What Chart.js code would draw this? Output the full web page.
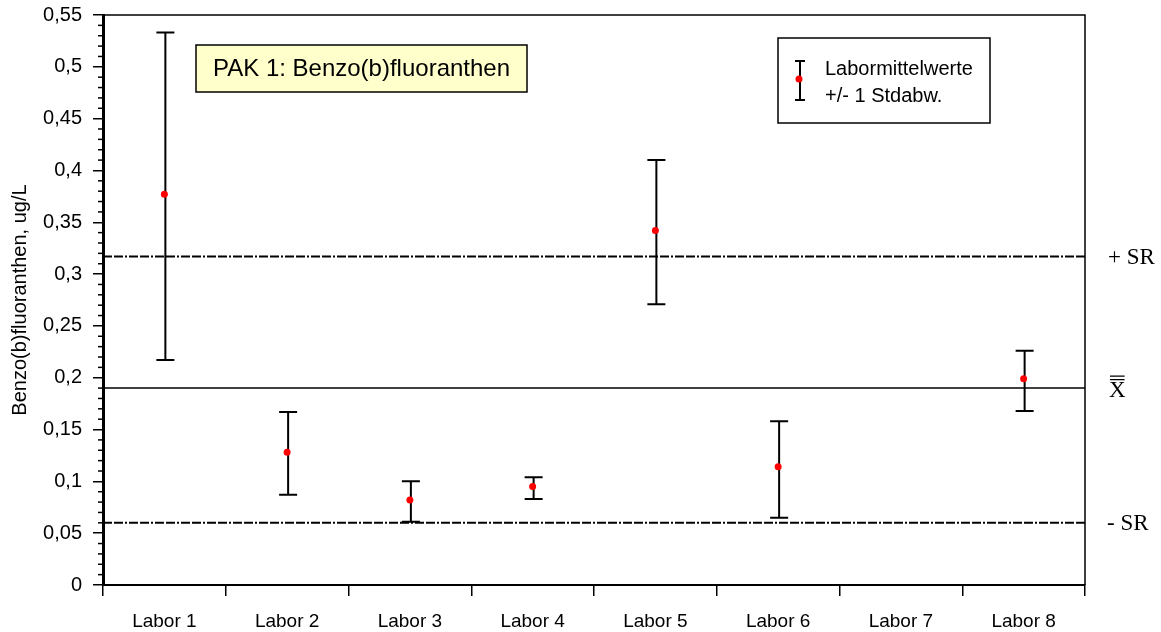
<!DOCTYPE html>
<html>
<head>
<meta charset="utf-8">
<title>PAK 1: Benzo(b)fluoranthen</title>
<script src="https://cdn.jsdelivr.net/npm/chart.js@4/dist/chart.umd.min.js"></script>
<style>
  html, body { margin: 0; padding: 0; background: #fff; }
  #chart1 { display: block; }
</style>
</head>
<body>
<canvas id="chart1"></canvas>
<script>
// Labore und Messwerte (Mittelwert +/- 1 Standardabweichung), Labor 7 ohne Wert
const labore = ['Labor 1', 'Labor 2', 'Labor 3', 'Labor 4', 'Labor 5', 'Labor 6', 'Labor 7', 'Labor 8'];
const mittelwerte = [0.377, 0.128, 0.082, 0.095, 0.342, 0.114, null, 0.199];
const obereGrenze = [0.533, 0.167, 0.100, 0.104, 0.410, 0.158, null, 0.226];
const untereGrenze = [0.217, 0.087, 0.061, 0.083, 0.271, 0.065, null, 0.168];

// Gesamtmittelwert und Vergleichsstandardabweichung
const gesamtMittel = 0.190;
const plusSR = 0.317;
const minusSR = 0.060;

const canvas = document.getElementById('chart1');
canvas.width = 1161;
canvas.height = 632;
const ctx = canvas.getContext('2d');

const sans = "'Liberation Sans', Arial, sans-serif";
const serif = "'Liberation Serif', 'Times New Roman', serif";

// Fehlerbalken, Referenzlinien, Nebenstriche, Rahmen
const extras = {
  id: 'extras',
  beforeDatasetsDraw(chart) {
    const c = chart.ctx;
    const x = chart.scales.x;
    const y = chart.scales.y;
    const a = chart.chartArea;
    c.save();

    // Referenzlinien
    c.strokeStyle = '#000';
    c.lineWidth = 2;
    c.setLineDash([9, 2, 9, 2, 2, 2]);
    [plusSR, minusSR].forEach(function (v) {
      const py = y.getPixelForValue(v);
      c.beginPath();
      c.moveTo(a.left, py);
      c.lineTo(a.right, py);
      c.stroke();
    });
    c.setLineDash([]);
    c.lineWidth = 1.5;
    const pm = y.getPixelForValue(gesamtMittel);
    c.beginPath();
    c.moveTo(a.left, pm);
    c.lineTo(a.right, pm);
    c.stroke();

    // Fehlerbalken
    c.lineWidth = 2;
    labore.forEach(function (l, i) {
      if (mittelwerte[i] === null) return;
      const px = x.getPixelForValue(i) + 1;
      const hi = y.getPixelForValue(obereGrenze[i]);
      const lo = y.getPixelForValue(untereGrenze[i]);
      c.beginPath();
      c.moveTo(px, hi);
      c.lineTo(px, lo);
      c.moveTo(px - 9, hi);
      c.lineTo(px + 9, hi);
      c.moveTo(px - 9, lo);
      c.lineTo(px + 9, lo);
      c.stroke();
    });
    c.restore();
  },
  afterDraw(chart) {
    const c = chart.ctx;
    const y = chart.scales.y;
    const a = chart.chartArea;
    c.save();

    // Rahmen oben und rechts
    c.strokeStyle = '#000';
    c.lineWidth = 1.5;
    c.beginPath();
    c.moveTo(a.left, a.top);
    c.lineTo(a.right, a.top);
    c.lineTo(a.right, a.bottom);
    c.stroke();

    // Nebenstriche der y-Achse (0,01)
    c.lineWidth = 1.5;
    for (let k = 1; k < 55; k++) {
      if (k % 5 === 0) continue;
      const py = y.getPixelForValue(k / 100);
      c.beginPath();
      c.moveTo(a.left - 5, py);
      c.lineTo(a.left, py);
      c.stroke();
    }

    // Beschriftung rechts
    c.fillStyle = '#000';
    c.font = '23px ' + serif;
    c.textBaseline = 'middle';
    c.textAlign = 'left';
    c.fillText('+ SR', a.right + 23, y.getPixelForValue(plusSR) + 1);
    c.fillText('- SR', a.right + 22, y.getPixelForValue(minusSR) + 1);
    const xm = a.right + 24;
    const ym = y.getPixelForValue(gesamtMittel) + 3;
    c.fillText('X', xm, ym);
    const w = c.measureText('X').width;
    c.lineWidth = 1.3;
    c.beginPath();
    c.moveTo(xm + 1, ym - 15);
    c.lineTo(xm + w - 1, ym - 15);
    c.moveTo(xm + 1, ym - 11.5);
    c.lineTo(xm + w - 1, ym - 11.5);
    c.stroke();

    // Titelkasten
    c.fillStyle = '#ffffcc';
    c.fillRect(a.left + 93, a.top + 30, 331, 47);
    c.strokeStyle = '#000';
    c.lineWidth = 1.5;
    c.strokeRect(a.left + 93, a.top + 30, 331, 47);
    c.fillStyle = '#000';
    c.font = '24px ' + sans;
    c.textAlign = 'center';
    c.fillText('PAK 1: Benzo(b)fluoranthen', a.left + 93 + 331 / 2, a.top + 54);

    // Legende
    const lx = a.left + 675, ly = a.top + 23;
    c.fillStyle = '#fff';
    c.fillRect(lx, ly, 212, 85);
    c.strokeRect(lx, ly, 212, 85);
    c.lineWidth = 2;
    c.beginPath();
    c.moveTo(lx + 22, ly + 23);
    c.lineTo(lx + 22, ly + 62);
    c.moveTo(lx + 17, ly + 23);
    c.lineTo(lx + 27, ly + 23);
    c.moveTo(lx + 17, ly + 62);
    c.lineTo(lx + 27, ly + 62);
    c.stroke();
    c.fillStyle = '#ff0000';
    c.beginPath();
    c.arc(lx + 21, ly + 41, 3.5, 0, Math.PI * 2);
    c.fill();
    c.fillStyle = '#000';
    c.font = '20px ' + sans;
    c.textAlign = 'left';
    c.fillText('Labormittelwerte', lx + 47, ly + 31);
    c.fillText('+/- 1 Stdabw.', lx + 47, ly + 58);

    c.restore();
  },
};

new Chart(ctx, {
  type: 'line',
  data: {
    labels: labore,
    datasets: [{
      label: 'Labormittelwerte',
      data: mittelwerte,
      showLine: false,
      pointRadius: 3.5,
      pointHoverRadius: 3.5,
      pointBackgroundColor: '#ff0000',
      pointBorderWidth: 0,
    }],
  },
  options: {
    responsive: false,
    maintainAspectRatio: false,
    animation: false,
    events: [],
    layout: { padding: { top: 15, right: 76, left: 0, bottom: 0 } },
    plugins: {
      legend: { display: false },
      tooltip: { enabled: false },
    },
    scales: {
      x: {
        type: 'category',
        offset: true,
        afterFit: function (s) { s.height = 47; },
        grid: {
          offset: true,
          drawOnChartArea: false,
          tickLength: 11,
          color: '#000',
          lineWidth: 1.5,
        },
        border: { color: '#000', width: 2 },
        ticks: {
          color: '#000',
          padding: 14,
          font: { family: sans, size: 19 },
          maxRotation: 0,
        },
      },
      y: {
        min: 0,
        max: 0.55,
        afterFit: function (s) {
          s.width = 103;
          s.paddingTop = 0;
          s.paddingBottom = 0;
        },
        grid: {
          drawOnChartArea: false,
          tickLength: 10,
          color: '#000',
          lineWidth: 1.5,
        },
        border: { color: '#000', width: 3 },
        ticks: {
          stepSize: 0.05,
          color: '#000',
          padding: 11,
          font: { family: sans, size: 20 },
          callback: function (v) {
            return String(Math.round(v * 100) / 100).replace('.', ',');
          },
        },
        title: {
          display: true,
          text: 'Benzo(b)fluoranthen, ug/L',
          color: '#000',
          padding: { top: 8 },
          font: { family: sans, size: 20 },
        },
      },
    },
  },
  plugins: [extras],
});
</script>
</body>
</html>
